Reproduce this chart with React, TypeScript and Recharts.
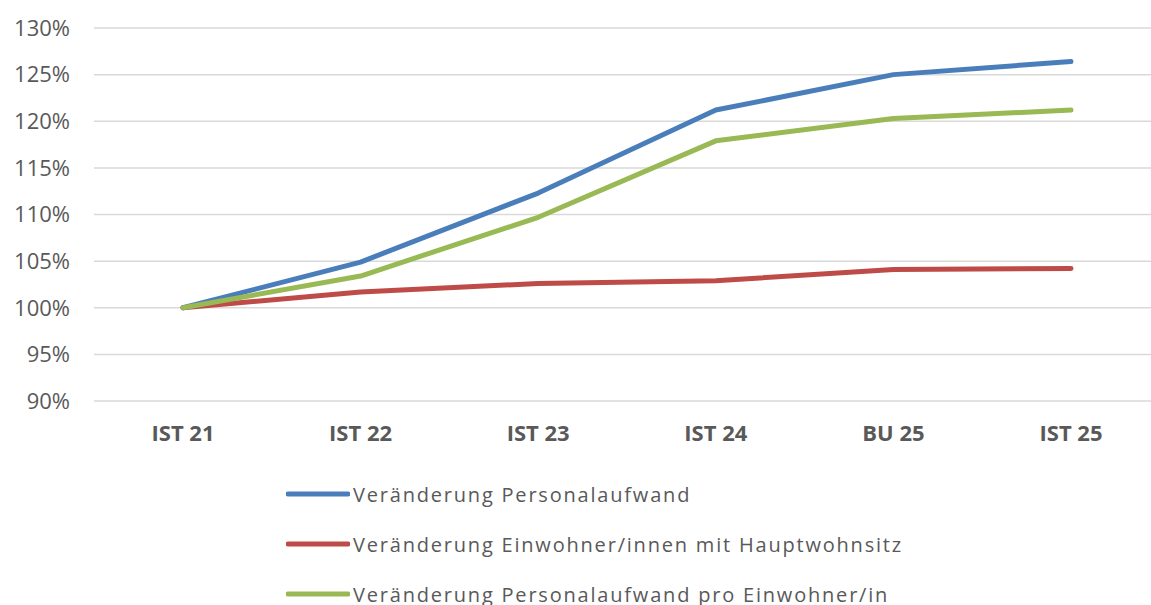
import React from 'react';
import { LineChart, Line, XAxis, YAxis, CartesianGrid, Legend } from 'recharts';

const categories = ['IST 21', 'IST 22', 'IST 23', 'IST 24', 'BU 25', 'IST 25'];
const personalaufwand = [100, 104.9, 112.3, 121.2, 125.0, 126.4];
const einwohner = [100, 101.7, 102.6, 102.9, 104.1, 104.2];
const proEinwohner = [100, 103.4, 109.7, 117.9, 120.3, 121.2];
const yTicks = [90, 95, 100, 105, 110, 115, 120, 125, 130];

const series = [
  { key: 'a', name: 'Veränderung Personalaufwand', color: '#4a7ebb', values: personalaufwand },
  { key: 'b', name: 'Veränderung Einwohner/innen mit Hauptwohnsitz', color: '#be4b48', values: einwohner },
  { key: 'c', name: 'Veränderung Personalaufwand pro Einwohner/in', color: '#98b954', values: proEinwohner },
];

const data = categories.map((cat, i) => ({
  cat,
  a: personalaufwand[i],
  b: einwohner[i],
  c: proEinwohner[i],
}));

const FONT = '"Open Sans", sans-serif';
const TEXT = '#595959';

// legend stacked vertically under the plot
const renderLegend = () => (
  <div style={{ fontFamily: FONT }}>
    {series.map((s) => (
      <div key={s.key} style={{ display: 'flex', alignItems: 'center', height: 50 }}>
        <svg width={64} height={10}>
          <line x1={2} y1={5} x2={62} y2={5} stroke={s.color} strokeWidth={5} strokeLinecap="round" />
        </svg>
        <span style={{ fontSize: 20, color: TEXT, letterSpacing: 1.8, marginLeft: 3 }}>{s.name}</span>
      </div>
    ))}
  </div>
);

const App = () => {
  return (
    <div style={{ position: 'absolute', left: 0, top: 0, width: 1151, height: 605, overflow: 'hidden', background: '#fff' }}>
      <LineChart
        width={1170}
        height={605}
        data={data}
        margin={{ top: 28, right: 10, bottom: 174, left: 0 }}
      >
        <CartesianGrid vertical={false} stroke="#d9d9d9" strokeWidth={1.5} />
        <XAxis
          dataKey="cat"
          axisLine={false}
          tickLine={false}
          tickSize={0}
          tickMargin={24}
          height={30}
          padding={{ left: 89, right: 89 }}
          tick={{ fill: TEXT, fontSize: 22, fontWeight: 700, fontFamily: FONT }}
        />
        <YAxis
          domain={[90, 130]}
          ticks={yTicks}
          width={94}
          axisLine={false}
          tickLine={false}
          tickSize={0}
          tickMargin={24}
          tickFormatter={(v) => `${v}%`}
          tick={{ fill: TEXT, fontSize: 22, fontFamily: FONT }}
        />
        <Legend
          layout="vertical"
          align="center"
          verticalAlign="middle"
          content={renderLegend}
          wrapperStyle={{ position: 'absolute', top: 469, left: 286, width: 760 }}
        />
        {series.map((s) => (
          <Line
            key={s.key}
            dataKey={s.key}
            name={s.name}
            stroke={s.color}
            strokeWidth={5}
            strokeLinecap="round"
            strokeLinejoin="round"
            dot={false}
            activeDot={false}
            isAnimationActive={false}
          />
        ))}
      </LineChart>
    </div>
  );
};

export default App;
